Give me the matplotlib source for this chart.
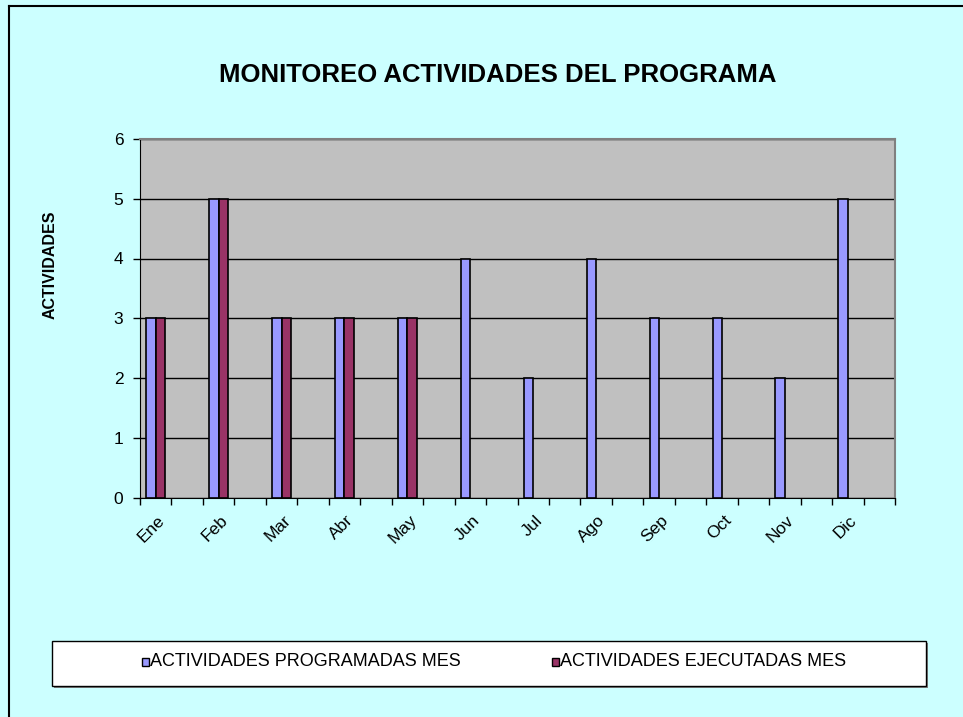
import matplotlib
matplotlib.use("Agg")
import matplotlib.pyplot as plt
import numpy as np
from matplotlib.patches import Rectangle
from matplotlib.lines import Line2D

months = ["Ene", "Feb", "Mar", "Abr", "May", "Jun", "Jul", "Ago", "Sep", "Oct", "Nov", "Dic"]
programadas = [3, 5, 3, 3, 3, 4, 2, 4, 3, 3, 2, 5]
ejecutadas = [3, 5, 3, 3, 3, 0, 0, 0, 0, 0, 0, 0]

plt.rcParams['font.family'] = ['Liberation Sans', 'DejaVu Sans']

W, H = 963, 717
fig = plt.figure(figsize=(W/100, H/100), dpi=100)
fig.patch.set_facecolor('#CCFFFF')

# outer chart border (left & top visible)
fig.add_artist(Line2D([9/W, 9/W], [0, 1-6/H], color='black', lw=1.5, transform=fig.transFigure))
fig.add_artist(Line2D([9/W, 1], [1-6/H, 1-6/H], color='black', lw=1.5, transform=fig.transFigure))

left, right, top, bottom = 140, 895, 139, 497.5
ax = fig.add_axes([left/W, 1-bottom/H, (right-left)/W, (bottom-top)/H])
ax.set_facecolor('#C0C0C0')

x = np.arange(len(months)) * 2  # each month followed by an empty category
bw = 0.3
ax.bar(x - bw/2, programadas, bw, color='#9999FF', edgecolor='black', lw=1.2, zorder=3)
ej_x = [xi + bw/2 for xi, v in zip(x, ejecutadas) if v > 0]
ej_v = [v for v in ejecutadas if v > 0]
ax.bar(ej_x, ej_v, bw, color='#993366', edgecolor='black', lw=1.2, zorder=3)

ax.set_xlim(-0.5, 23.5)
ax.set_ylim(0, 6)
ax.set_yticks(range(7))
ax.yaxis.grid(True, color='black', lw=1)
ax.set_axisbelow(True)
ax.set_xticks(np.arange(-0.5, 24, 1))
ax.set_xticklabels([])
ax.tick_params(axis='x', length=5, width=1, direction='out')
ax.tick_params(axis='y', length=5, width=1, direction='out', labelsize=12.5, pad=7)
for xi, m in zip(x, months):
    ax.text(xi + 0.05, -0.25, m, rotation=45, ha='right', va='top', rotation_mode='anchor',
            fontsize=12.5, transform=ax.transData)
for s in ['top', 'right']:
    ax.spines[s].set_color('#808080')
    ax.spines[s].set_linewidth(1.5)
for s in ['left', 'bottom']:
    ax.spines[s].set_color('black')

fig.text(498/W, 1-75/H, "MONITOREO ACTIVIDADES DEL PROGRAMA", ha='center', va='center',
         fontsize=18.5, fontweight='bold')
fig.text(50/W, 1-265/H, "ACTIVIDADES", rotation=90, ha='center', va='center',
         fontsize=11.5, fontweight='bold')

# legend box with shadow
lx0, lx1, ly0, ly1 = 52, 926, 641, 686
fig.add_artist(Rectangle((lx0/W + 2/W, 1-ly1/H - 2/H), (lx1-lx0)/W, (ly1-ly0)/H,
                         transform=fig.transFigure, facecolor='#808080', edgecolor='none'))
fig.add_artist(Rectangle((lx0/W, 1-ly1/H), (lx1-lx0)/W, (ly1-ly0)/H,
                         transform=fig.transFigure, facecolor='white', edgecolor='black', lw=1))
ly = 662
for mx, col, lab in [(146, '#9999FF', 'ACTIVIDADES PROGRAMADAS MES'),
                     (556, '#993366', 'ACTIVIDADES EJECUTADAS MES')]:
    fig.add_artist(Rectangle(((mx-4)/W, 1-(ly+4)/H), 7/W, 8/H, transform=fig.transFigure,
                             facecolor=col, edgecolor='black', lw=1))
    fig.text((mx+4)/W, 1-ly/H, lab, ha='left', va='center', fontsize=13)

fig.savefig('out.png', dpi=100, facecolor=fig.get_facecolor())
